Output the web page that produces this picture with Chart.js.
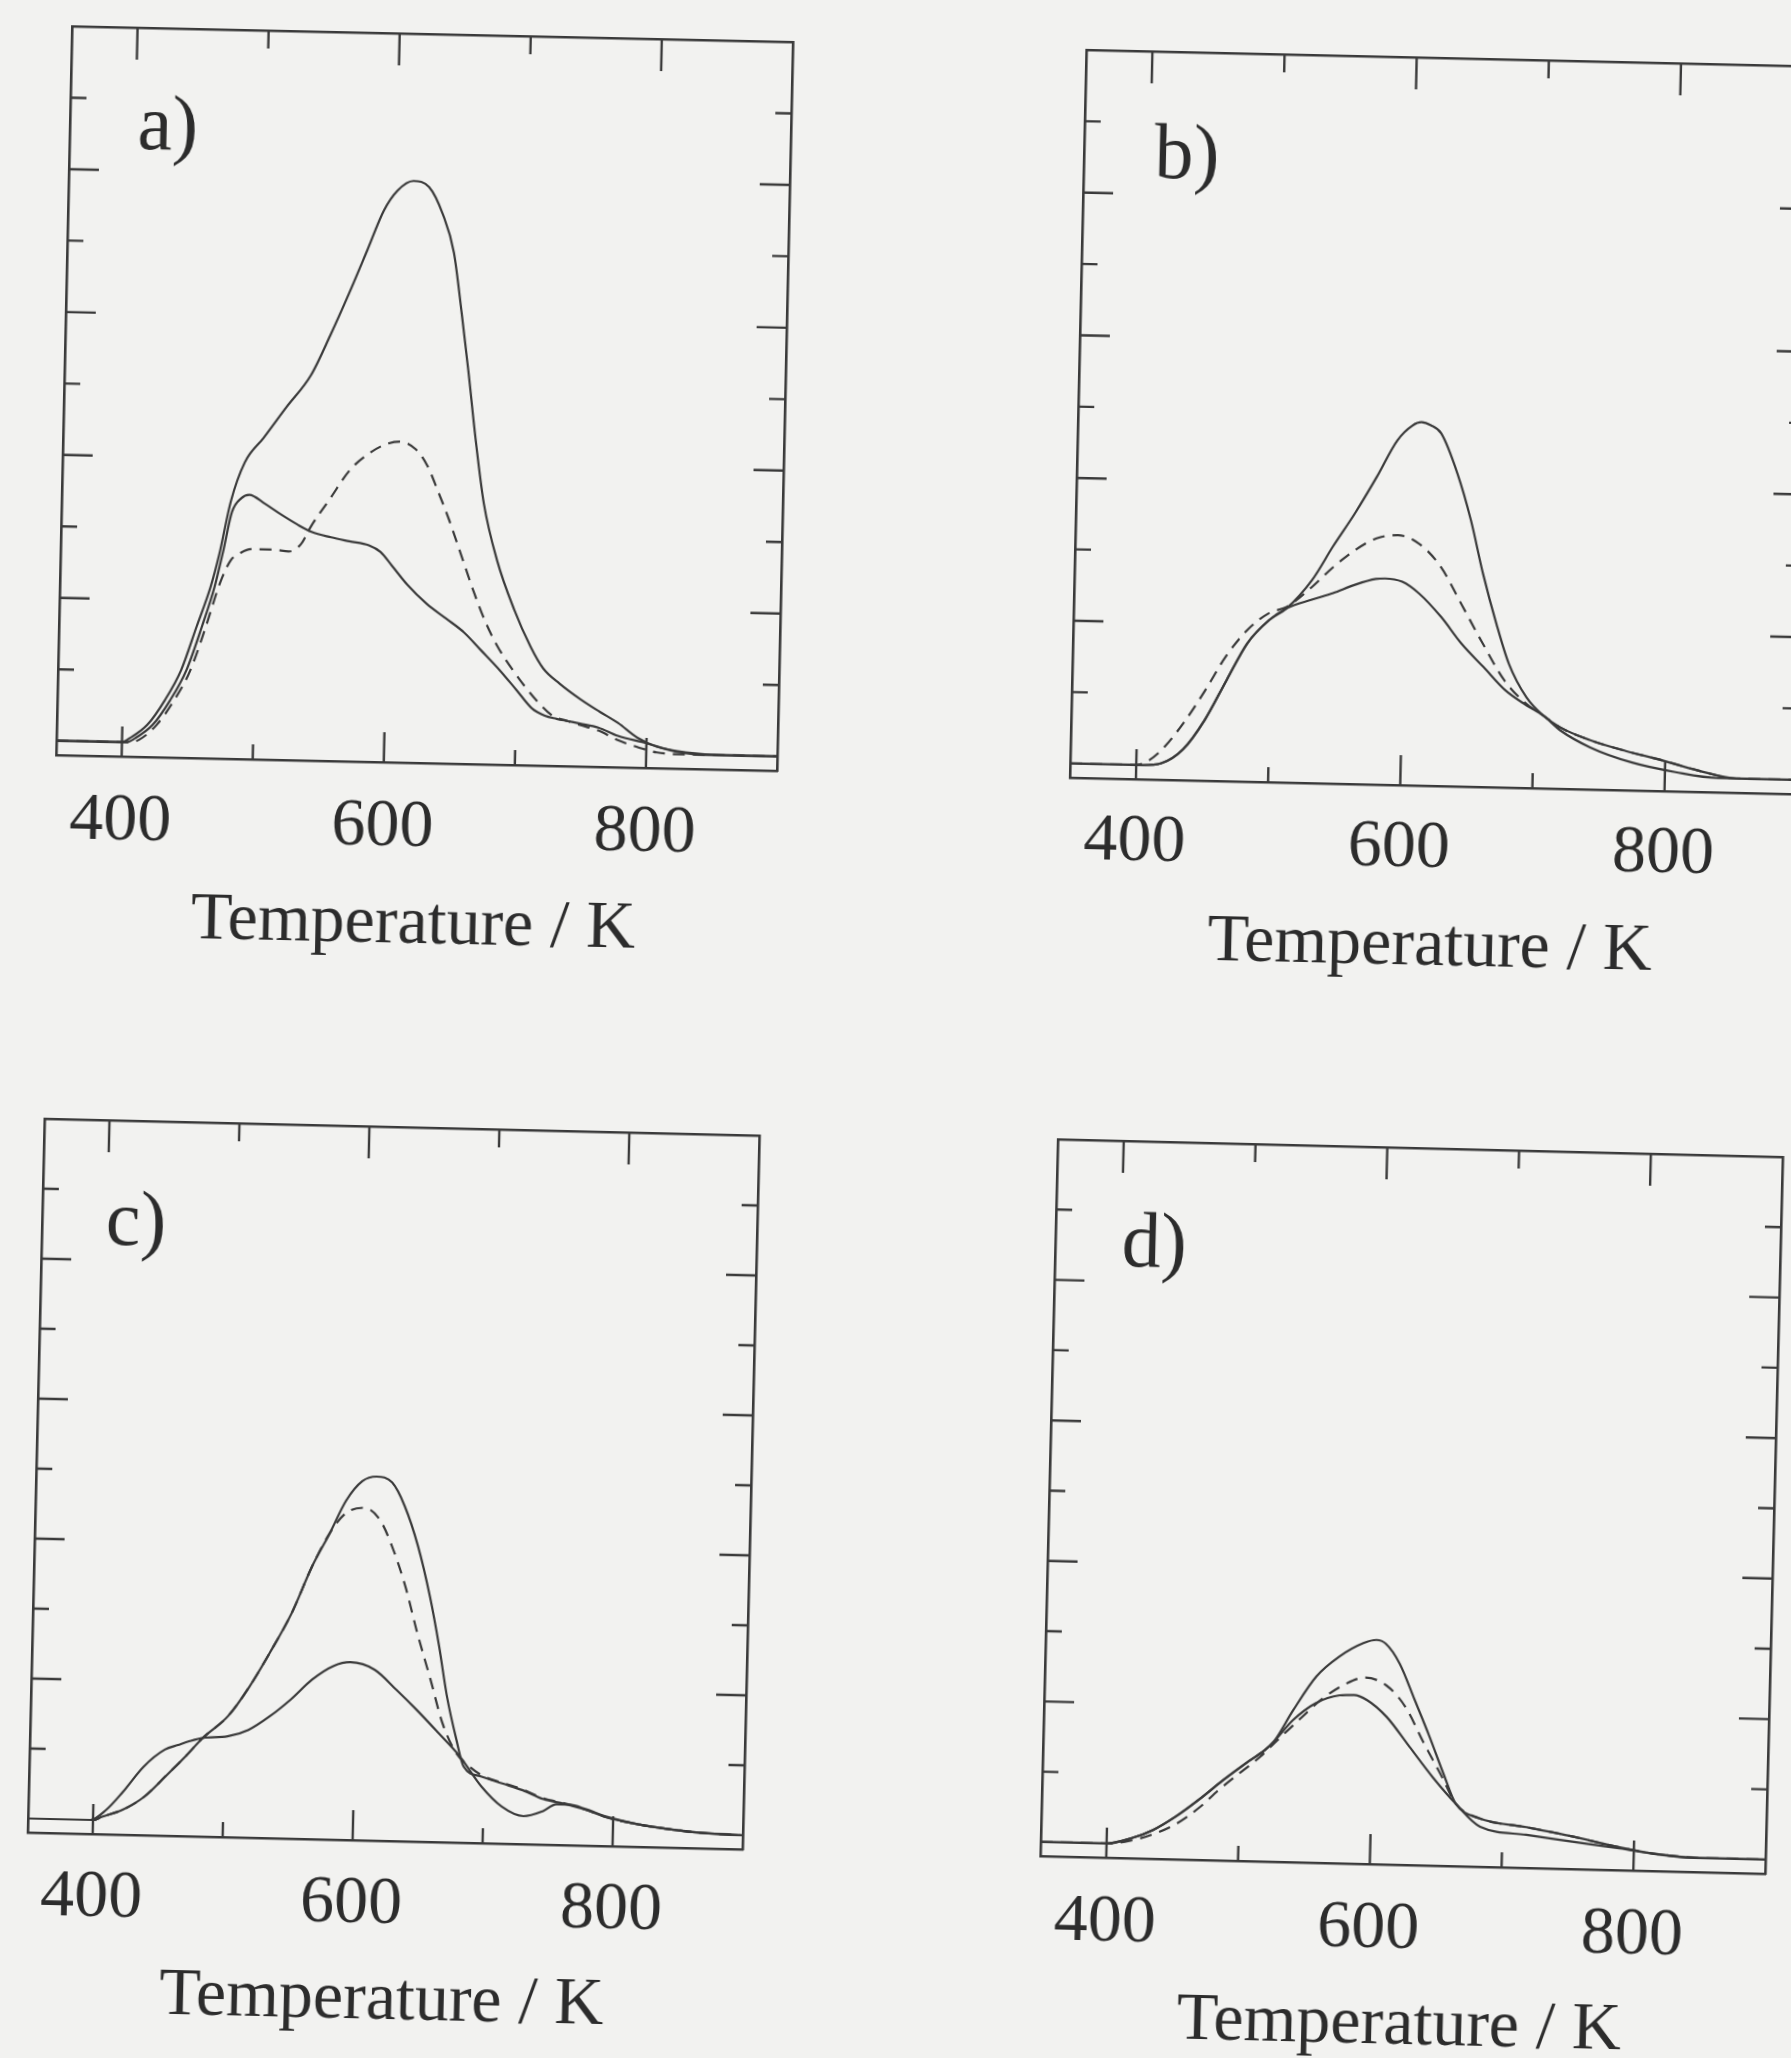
<!DOCTYPE html>
<html>
<head>
<meta charset="utf-8">
<script src="https://cdn.jsdelivr.net/npm/chart.js@4.4.1/dist/chart.umd.min.js"></script>
<style>
  html, body { margin: 0; padding: 0; background: #f2f2f0; width: 1791px; height: 2058px; overflow: hidden; }
  canvas.panel { position: absolute; }
</style>
</head>
<body>
<canvas id="pa" class="panel"></canvas>
<canvas id="pb" class="panel"></canvas>
<canvas id="pc" class="panel"></canvas>
<canvas id="pd" class="panel"></canvas>
<script>
// ---------------- data (temperature in K, signal in arbitrary units) ----------------
const temperatureTicks = [400, 500, 600, 700, 800];
const labelledTemps = [400, 600, 800];
const signalTicks = [1, 2, 3, 4, 5, 6, 7, 8, 9];
const tempRange = [350, 900];
const signalRange = [-0.2, 10];
const axisTitle = 'Temperature / K';
const panelLetters = ['a)', 'b)', 'c)', 'd)'];

// panel a
const a_s1_T = [350, 400, 406, 419, 432, 444, 455, 465, 471, 479, 489, 503, 520, 538, 552, 566, 579, 591, 601, 613, 625, 636, 645, 652, 658, 665, 672, 683, 697, 710, 720, 733, 749, 764, 778, 793, 808, 830, 860, 900];
const a_s1_V = [0, 0, 0.06, 0.25, 0.6, 1.03, 1.64, 2.2, 2.65, 3.4, 3.95, 4.3, 4.74, 5.19, 5.75, 6.36, 6.96, 7.52, 7.8, 7.94, 7.86, 7.48, 6.95, 6.1, 5.3, 4.3, 3.45, 2.66, 1.97, 1.46, 1.16, 0.95, 0.74, 0.57, 0.42, 0.22, 0.1, 0.03, 0, 0];
const a_s2_T = [350, 403, 410, 423, 436, 448, 459, 468, 474, 480, 487, 493, 505, 517, 530, 541, 556, 570, 585, 594, 603, 615, 630, 645, 659, 672, 687, 700, 712, 722, 731, 740, 749, 763, 778, 799, 822, 850, 900];
const a_s2_V = [0, 0, 0.06, 0.25, 0.6, 1.03, 1.64, 2.2, 2.7, 3.25, 3.45, 3.5, 3.38, 3.24, 3.1, 3.0, 2.93, 2.88, 2.83, 2.74, 2.55, 2.29, 2.03, 1.83, 1.64, 1.4, 1.12, 0.85, 0.6, 0.5, 0.46, 0.43, 0.40, 0.35, 0.24, 0.15, 0.04, 0, 0];
const a_d_T = [350, 405, 413, 426, 439, 451, 462, 472, 480, 487, 495, 512, 524, 533, 541, 555, 569, 584, 598, 607, 619, 628, 637, 646, 655, 666, 675, 684, 698, 716, 728, 740, 749, 763, 778, 793, 808, 830, 900];
const a_d_V = [0, 0, 0.04, 0.25, 0.6, 1.03, 1.64, 2.25, 2.58, 2.68, 2.74, 2.74, 2.72, 2.82, 3.09, 3.48, 3.87, 4.12, 4.26, 4.29, 4.19, 3.97, 3.6, 3.2, 2.75, 2.2, 1.8, 1.48, 1.1, 0.7, 0.5, 0.43, 0.38, 0.31, 0.18, 0.09, 0.02, 0, 0];

// panel b
const b_s1_T = [350, 405, 419, 435, 451, 467, 482, 498, 511, 530, 545, 561, 577, 592, 603, 610, 617, 625, 638, 649, 659, 670, 680, 694, 707, 720, 743, 770, 798, 825, 854, 900];
const b_s1_V = [0, 0, 0.03, 0.23, 0.65, 1.22, 1.74, 2.07, 2.24, 2.65, 3.12, 3.59, 4.11, 4.63, 4.84, 4.89, 4.85, 4.74, 4.18, 3.53, 2.79, 2.09, 1.54, 1.07, 0.82, 0.66, 0.49, 0.35, 0.23, 0.1, 0, 0];
const b_s2_T = [350, 405, 419, 435, 451, 467, 482, 498, 511, 530, 546, 562, 578, 585, 598, 611, 628, 644, 661, 678, 694, 707, 720, 743, 775, 808, 840, 900];
const b_s2_V = [0, 0, 0.03, 0.23, 0.65, 1.22, 1.74, 2.07, 2.24, 2.37, 2.47, 2.59, 2.68, 2.69, 2.65, 2.49, 2.17, 1.80, 1.48, 1.16, 0.96, 0.82, 0.62, 0.39, 0.19, 0.07, 0, 0];
const b_d_T = [350, 400, 408, 419, 435, 451, 466, 482, 498, 511, 530, 546, 562, 578, 594, 610, 627, 643, 660, 677, 694, 707, 720, 743, 770, 798, 825, 854, 900];
const b_d_V = [0, 0, 0.05, 0.22, 0.6, 1.07, 1.55, 1.93, 2.17, 2.26, 2.55, 2.84, 3.08, 3.25, 3.30, 3.19, 2.87, 2.36, 1.81, 1.3, 0.98, 0.82, 0.66, 0.49, 0.35, 0.23, 0.1, 0, 0];

// panel c
const c_s1_T = [350, 400, 407, 423, 439, 455, 470, 483, 502, 518, 533, 549, 564, 577, 589, 601, 612, 624, 634, 645, 655, 663, 670, 678, 684, 698, 714, 730, 746, 762, 779, 795, 820, 845, 870, 900];
const c_s1_V = [0, 0, 0.05, 0.16, 0.35, 0.65, 0.94, 1.21, 1.53, 1.96, 2.45, 3.02, 3.70, 4.18, 4.65, 4.93, 5.0, 4.92, 4.59, 4.02, 3.31, 2.6, 1.88, 1.27, 0.89, 0.75, 0.66, 0.57, 0.45, 0.39, 0.31, 0.21, 0.12, 0.06, 0.02, 0];
const c_s2_T = [350, 398, 410, 422, 438, 454, 464, 473, 483, 502, 518, 534, 550, 566, 582, 595, 614, 631, 647, 664, 681, 698, 714, 731, 746, 756, 766, 779, 795, 820, 845, 870, 900];
const c_s2_V = [0, 0, 0.15, 0.40, 0.78, 1.03, 1.10, 1.16, 1.21, 1.24, 1.34, 1.54, 1.79, 2.08, 2.28, 2.34, 2.24, 1.96, 1.68, 1.36, 1.03, 0.61, 0.33, 0.2, 0.28, 0.38, 0.38, 0.32, 0.22, 0.12, 0.06, 0.02, 0];
const c_d_T = [350, 400, 407, 423, 439, 455, 470, 483, 502, 518, 533, 549, 564, 577, 589, 603, 615, 625, 636, 646, 657, 667, 678, 688, 698, 714, 730, 746, 762, 779, 795, 820, 845, 870, 900];
const c_d_V = [0, 0, 0.05, 0.16, 0.35, 0.65, 0.94, 1.21, 1.53, 1.96, 2.45, 3.02, 3.70, 4.18, 4.47, 4.55, 4.39, 4.01, 3.44, 2.78, 2.12, 1.5, 1.08, 0.9, 0.77, 0.67, 0.58, 0.46, 0.40, 0.31, 0.21, 0.12, 0.06, 0.02, 0];

// panel d
const d_s1_T = [350, 399, 418, 435, 452, 470, 487, 504, 518, 525, 539, 556, 573, 591, 601, 608, 619, 631, 643, 654, 664, 682, 718, 754, 782, 810, 825, 850, 900];
const d_s1_V = [0, 0, 0.08, 0.21, 0.41, 0.67, 0.94, 1.19, 1.38, 1.51, 1.96, 2.45, 2.74, 2.94, 2.99, 2.94, 2.66, 2.15, 1.63, 1.12, 0.69, 0.49, 0.38, 0.26, 0.15, 0.06, 0.03, 0, 0];
const d_s2_T = [350, 399, 418, 435, 452, 470, 487, 504, 518, 525, 539, 556, 574, 585, 595, 610, 628, 646, 664, 683, 718, 753, 789, 817, 845, 900];
const d_s2_V = [0, 0, 0.08, 0.21, 0.41, 0.67, 0.94, 1.19, 1.38, 1.51, 1.82, 2.07, 2.19, 2.20, 2.13, 1.90, 1.48, 1.06, 0.69, 0.37, 0.27, 0.19, 0.11, 0.04, 0, 0];
const d_d_T = [350, 399, 418, 435, 452, 470, 484, 499, 515, 525, 546, 560, 577, 593, 609, 624, 639, 653, 664, 682, 718, 754, 782, 810, 825, 850, 900];
const d_d_V = [0, 0, 0.05, 0.15, 0.3, 0.55, 0.8, 1.04, 1.29, 1.48, 1.87, 2.12, 2.34, 2.45, 2.35, 2.05, 1.53, 1.07, 0.69, 0.49, 0.38, 0.26, 0.15, 0.06, 0.03, 0, 0];

// ---------------- styling / layout ----------------
const LINE = '#3a3a3a';
const TEXT = '#2c2c2c';
const FONT = "'Liberation Serif', 'Times New Roman', serif";

const panels = [
  { id: 'pa', letter: panelLetters[0], L: 64,     T: 33.8,   W: 720.5, H: 729.3, rot: 1.25, lx: 98,  ly: 108, tp: 24, ttp: 7,
    curves: [[a_s1_T, a_s1_V, false], [a_s2_T, a_s2_V, false], [a_d_T, a_d_V, true]] },
  { id: 'pb', letter: panelLetters[1], L: 1078.2, T: 57.7,   W: 727.1, H: 728.3, rot: 1.3,  lx: 103, ly: 113, tp: 22, ttp: 8,
    curves: [[b_s1_T, b_s1_V, false], [b_s2_T, b_s2_V, false], [b_d_T, b_d_V, true]] },
  { id: 'pc', letter: panelLetters[2], L: 36.3,   T: 1127.4, W: 715,   H: 714,   rot: 1.35, lx: 94,  ly: 111, tp: 23, ttp: 9,
    curves: [[c_s1_T, c_s1_V, false], [c_s2_T, c_s2_V, false], [c_d_T, c_d_V, true]] },
  { id: 'pd', letter: panelLetters[3], L: 1049.1, T: 1148,   W: 725,   H: 717,   rot: 1.4,  lx: 99,  ly: 112, tp: 24, ttp: 8,
    curves: [[d_s1_T, d_s1_V, false], [d_s2_T, d_s2_V, false], [d_d_T, d_d_V, true]] }
];

// inward tick marks on all four sides, positioned by the chart's own scales
const inwardTicks = {
  id: 'inwardTicks',
  afterDraw(chart) {
    const { ctx, chartArea: a, scales: { x, y } } = chart;
    ctx.save();
    ctx.strokeStyle = LINE;
    ctx.lineWidth = 2.4;
    ctx.beginPath();
    for (const t of x.ticks) {
      const px = x.getPixelForValue(t.value);
      const major = t.value % 200 === 0;
      ctx.moveTo(px, a.bottom); ctx.lineTo(px, a.bottom - (major ? 30 : 15));
      ctx.moveTo(px, a.top);    ctx.lineTo(px, a.top + (major ? 32 : 18));
    }
    for (const t of y.ticks) {
      const py = y.getPixelForValue(t.value);
      const len = t.value % 2 === 0 ? 30 : 16;
      ctx.moveTo(a.left, py);  ctx.lineTo(a.left + len, py);
      ctx.moveTo(a.right, py); ctx.lineTo(a.right - len, py);
    }
    ctx.stroke();
    ctx.restore();
  }
};

const panelLetter = {
  id: 'panelLetter',
  afterDraw(chart, args, opts) {
    const { ctx, chartArea: a } = chart;
    ctx.save();
    ctx.fillStyle = TEXT;
    ctx.font = '78px ' + FONT;
    ctx.textAlign = 'center';
    ctx.textBaseline = 'middle';
    ctx.fillText(opts.text, a.left + opts.dx, a.top + opts.dy - 7);
    ctx.restore();
  }
};

function borderOnlyAxis(position, range, ticks, sizeProp) {
  return {
    type: 'linear', position, min: range[0], max: range[1],
    afterBuildTicks: (s) => { s.ticks = ticks.map(v => ({ value: v })); },
    ticks: { display: false },
    grid: { display: false, drawTicks: false },
    border: { display: true, color: LINE, width: 2.6 },
    afterFit: (s) => { s[sizeProp] = 0; }
  };
}

function makePanel(p) {
  const padL = 60, padR = 60, padT = 30, padB = 210;
  const cw = Math.round(p.W + padL + padR), ch = Math.round(p.H + padT + padB);
  const cv = document.getElementById(p.id);
  cv.width = cw; cv.height = ch;
  cv.style.width = cw + 'px'; cv.style.height = ch + 'px';
  cv.style.left = (p.L - padL) + 'px';
  cv.style.top = (p.T - padT) + 'px';
  cv.style.transformOrigin = (padL + p.W / 2) + 'px ' + (padT + p.H / 2) + 'px';
  cv.style.transform = 'rotate(' + p.rot + 'deg)';

  const datasets = p.curves.map(([T, V, dashed]) => ({
    data: T.map((t, i) => ({ x: t, y: V[i] })),
    borderColor: LINE,
    borderWidth: 2.2,
    borderDash: dashed ? [12, 8] : [],
    pointRadius: 0,
    fill: false,
    cubicInterpolationMode: 'monotone'
  }));

  new Chart(cv, {
    type: 'line',
    data: { datasets },
    options: {
      responsive: false,
      maintainAspectRatio: false,
      devicePixelRatio: 1,
      animation: false,
      events: [],
      layout: { padding: { left: padL, right: padR, top: padT, bottom: 0 } },
      plugins: {
        legend: { display: false },
        tooltip: { enabled: false },
        panelLetter: { text: p.letter, dx: p.lx, dy: p.ly }
      },
      scales: {
        x: {
          type: 'linear', position: 'bottom', min: tempRange[0], max: tempRange[1],
          afterBuildTicks: (s) => { s.ticks = temperatureTicks.map(v => ({ value: v })); },
          ticks: {
            autoSkip: false, maxRotation: 0, padding: p.tp, color: TEXT,
            font: { family: FONT, size: 68, lineHeight: 1.2 },
            callback: (v) => labelledTemps.includes(v) ? String(v) : ''
          },
          grid: { display: false, drawTicks: false },
          border: { display: true, color: LINE, width: 2.6 },
          title: {
            display: true, text: axisTitle, color: TEXT,
            font: { family: FONT, size: 68, lineHeight: 1.2 },
            padding: { top: 0, bottom: p.ttp }
          },
          afterFit: (s) => { s.height = padB; }
        },
        x2: borderOnlyAxis('top', tempRange, temperatureTicks, 'height'),
        y: borderOnlyAxis('left', signalRange, signalTicks, 'width'),
        y2: borderOnlyAxis('right', signalRange, signalTicks, 'width')
      }
    },
    plugins: [inwardTicks, panelLetter]
  });
}

panels.forEach(makePanel);
</script>
</body>
</html>
